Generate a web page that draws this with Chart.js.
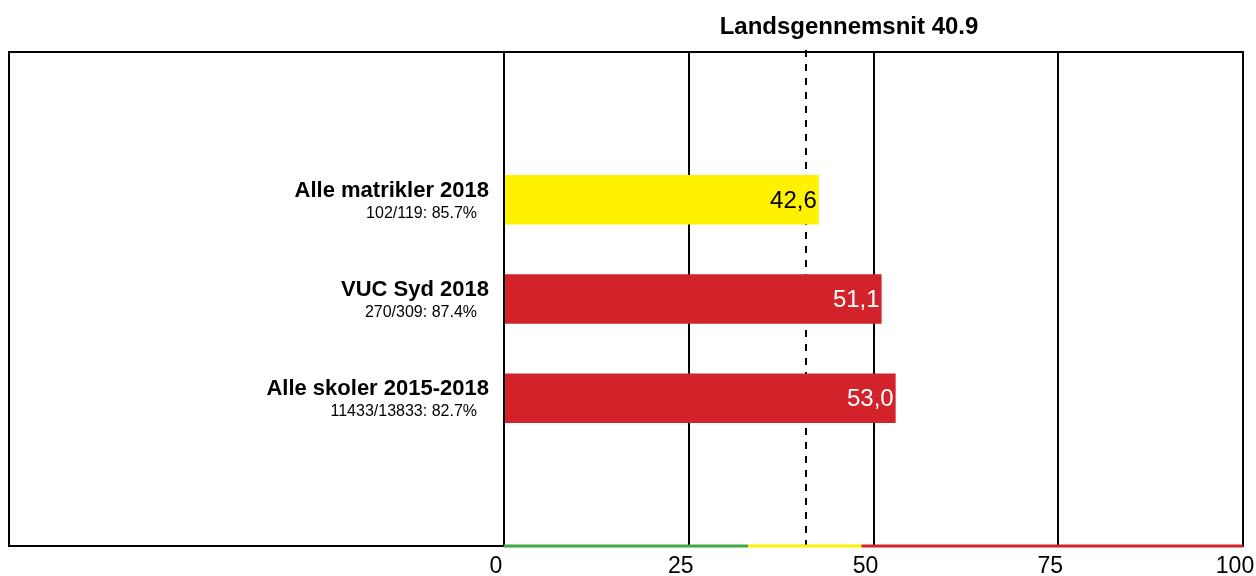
<!DOCTYPE html>
<html><head><meta charset="utf-8">
<script src="https://cdn.jsdelivr.net/npm/chart.js@4"></script>
<style>html,body{margin:0;padding:0;background:#fff}#wrap{width:1256px;height:576px;position:relative}</style>
</head><body><div id="wrap"><canvas id="c" width="1256" height="576"></canvas></div>
<script>
const categories = ['Alle matrikler 2018', 'VUC Syd 2018', 'Alle skoler 2015-2018'];
const subLabels = ['102/119: 85.7%', '270/309: 87.4%', '11433/13833: 82.7%'];
const values = [42.6, 51.1, 53.0];
const valueLabels = ['42,6', '51,1', '53,0'];
const barColors = ['#FFF200', '#D2232A', '#D2232A'];
const valueTextColors = ['#000000', '#FFFFFF', '#FFFFFF'];
const xTicks = [0, 25, 50, 75, 100];
const averageValue = 40.9;
const averageLabel = 'Landsgennemsnit 40.9';
const bandLimits = [0, 33, 48.4, 100];
const bandColors = ['#3DAA48', '#FFF200', '#D2232A'];

const FONT = "'Liberation Sans', Arial, sans-serif";

const labels = ['', ...categories, ''];
const data = [null, ...values, null];
const colors = ['#fff', ...barColors, '#fff'];

const deco = {
  id: 'deco',
  beforeDatasetsDraw(chart) {
    const {ctx, chartArea: a, scales: {x}} = chart;
    ctx.save();
    ctx.strokeStyle = '#000';
    ctx.lineWidth = 2;
    ctx.strokeRect(9, a.top + 1, a.right - 9, a.bottom - a.top - 2);
    const ax = Math.round(x.getPixelForValue(averageValue));
    ctx.setLineDash([7, 7]);
    ctx.beginPath();
    ctx.moveTo(ax, a.top - 1);
    ctx.lineTo(ax, a.bottom);
    ctx.stroke();
    ctx.restore();
  },
  afterDraw(chart) {
    const {ctx, chartArea: a, scales: {x, y}} = chart;
    ctx.save();
    ctx.lineWidth = 3;
    for (let i = 0; i < bandColors.length; i++) {
      ctx.strokeStyle = bandColors[i];
      ctx.beginPath();
      ctx.moveTo(x.getPixelForValue(bandLimits[i]), a.bottom - 1);
      ctx.lineTo(x.getPixelForValue(bandLimits[i + 1]), a.bottom - 1);
      ctx.stroke();
    }
    ctx.fillStyle = '#000';
    ctx.font = 'bold 24px ' + FONT;
    ctx.textAlign = 'center';
    ctx.textBaseline = 'alphabetic';
    ctx.fillText(averageLabel, 849, 34);
    categories.forEach((c, i) => {
      const cy = y.getPixelForValue(i + 1);
      ctx.textAlign = 'right';
      ctx.font = 'bold 22px ' + FONT;
      ctx.fillStyle = '#000';
      ctx.fillText(c, 489, cy - 3);
      ctx.font = '16px ' + FONT;
      ctx.fillText(subLabels[i], 477, cy + 18);
      const bx = x.getPixelForValue(values[i]);
      ctx.font = '24px ' + FONT;
      ctx.fillStyle = valueTextColors[i];
      ctx.fillText(valueLabels[i], bx - 2, cy + 8);
    });
    ctx.restore();
  }
};

new Chart(document.getElementById('c'), {
  type: 'bar',
  data: {
    labels: labels,
    datasets: [{
      data: data,
      backgroundColor: colors,
      borderWidth: 0,
      barPercentage: 0.5,
      categoryPercentage: 1.0
    }]
  },
  options: {
    indexAxis: 'y',
    responsive: false,
    devicePixelRatio: 1,
    animation: false,
    layout: {padding: {left: 504, right: 13, top: 51, bottom: 0}},
    plugins: {legend: {display: false}, title: {display: false}, tooltip: {enabled: false}},
    scales: {
      x: {
        type: 'linear',
        min: 0,
        max: 100,
        afterBuildTicks(s) { s.ticks = xTicks.map(v => ({value: v})); },
        ticks: {
          font: {family: FONT, size: 23},
          color: '#000',
          padding: 6,
          labelOffset: -8,
          maxRotation: 0,
          autoSkip: false
        },
        grid: {color: '#000', lineWidth: 2, drawTicks: false},
        border: {display: false},
        afterFit(s) { s.height = 29; s.paddingLeft = 0; s.paddingRight = 0; }
      },
      y: {
        type: 'category',
        display: false
      }
    }
  },
  plugins: [deco]
});
</script>
</body></html>
